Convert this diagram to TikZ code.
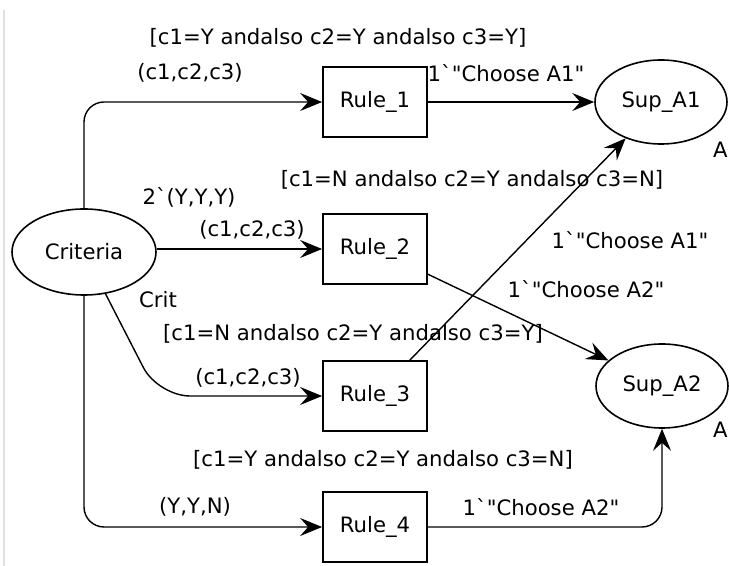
\documentclass[tikz,border=0pt]{standalone}
\usepackage{fontspec}
\setmainfont{DejaVu Sans}[Ligatures=TeXOff]
\usetikzlibrary{arrows.meta,shapes.geometric}
\tikzset{
  place/.style ={ellipse, draw, line width=0.8pt, minimum width=66pt,
                 minimum height=42pt, font=\cpn},
  trans/.style ={rectangle, draw, line width=0.9pt, minimum width=52pt,
                 minimum height=35pt, font=\cpn},
  fl/.style    ={-{Stealth[length=11pt,width=9pt,inset=4pt]}, line width=0.7pt},
  ins/.style   ={font=\cpn, inner sep=0pt},
}
\newcommand{\cpn}{\fontsize{10.6}{12}\selectfont}
\newcommand{\bq}{\textasciigrave}

\begin{document}
\begin{tikzpicture}[x=0.5pt, y=-0.5pt]
  \useasboundingbox (0,0) rectangle (729,566);
  \clip (0,0) rectangle (729,566);
  \draw[black!12, line width=0.6pt] (4,10) -- (4,566);

  % --- places and transitions -----------------------------------------
  \node[place, minimum width=72pt, minimum height=43pt] (crit) at (84,252) {Criteria};
  \node[trans] (rule1) at (375,102) {Rule\_1};
  \node[trans] (rule2) at (375,249) {Rule\_2};
  \node[trans] (rule3) at (375,396) {Rule\_3};
  \node[trans] (rule4) at (375,527) {Rule\_4};
  \node[place] (sup1) at (661,102) {Sup\_A1};
  \node[place] (sup2) at (662,386) {Sup\_A2};
  \coordinate (bend3) at (158,396);

  % --- arcs -----------------------------------------------------------
  \draw[fl, rounded corners=10pt] (crit.north) |- (rule1.west);
  \draw[fl] (crit.east |- rule2.west) -- (rule2.west);
  \draw[fl, rounded corners=16pt] (crit) -- (bend3) -- (rule3.west);
  \draw[fl, rounded corners=10pt] (crit.south) |- (rule4.west);
  \draw[fl] (rule1) -- (sup1);
  \draw[fl] (rule2) -- (sup2);
  \draw[fl] (rule3) -- (sup1);
  \draw[fl, rounded corners=10pt] (rule4.east) -| (sup2.south);

  % --- guards, arc inscriptions, marking ------------------------------
  \node[ins] (g1) at (338,38)  {[c1=Y andalso c2=Y andalso c3=Y]};
  \node[ins] (g2) at (472,180) {[c1=N andalso c2=Y andalso c3=N]};
  \node[ins] (g3) at (353,334) {[c1=N andalso c2=Y andalso c3=Y]};
  \node[ins] (g4) at (383,460) {[c1=Y andalso c2=Y andalso c3=N]};
  \node[ins] (a1) at (190,73)  {(c1,c2,c3)};
  \node[ins] (a2) at (252,230) {(c1,c2,c3)};
  \node[ins] (a3) at (248,378) {(c1,c2,c3)};
  \node[ins] (a4) at (195,507) {(Y,Y,N)};
  \node[ins] (o1) at (506,73)  {1\bq"Choose A1"};
  \node[ins] (o3) at (630,240) {1\bq"Choose A1"};
  \node[ins] (o2) at (586,289) {1\bq"Choose A2"};
  \node[ins] (o4) at (541,507) {1\bq"Choose A2"};
  \node[ins] (init) at (189,197) {2\bq(Y,Y,Y)};
  \node[ins] (ctype) at (158,300) {Crit};
  \node[ins, anchor=east] (s1type) at (728,150) {A};
  \node[ins, anchor=east] (s2type) at (728,430) {A};
\end{tikzpicture}
\end{document}
